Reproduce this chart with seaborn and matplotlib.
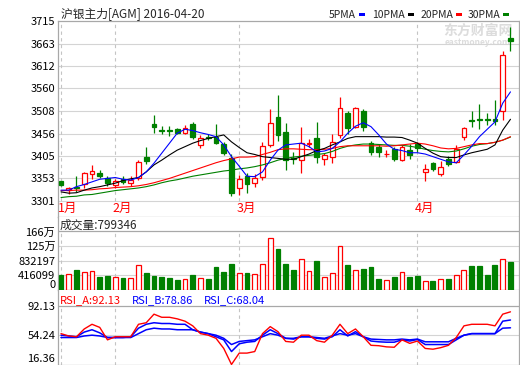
import numpy as np
import matplotlib
matplotlib.use('Agg')
import matplotlib.pyplot as plt
from matplotlib.patches import Rectangle
import seaborn as sns

# ── data ──────────────────────────────────────────────────────────────
title = "沪银主力[AGM] 2016-04-20"
month_labels = ["1月", "2月", "3月", "4月"]
month_start = [0, 7, 23, 46]

open_ = [3346, 3326, 3334, 3339, 3362, 3365, 3353, 3337, 3352, 3343,
         3355, 3402, 3478, 3465, 3465, 3466, 3458, 3477, 3430, 3449,
         3448, 3433, 3400, 3330, 3358, 3342, 3357, 3430, 3495, 3460,
         3401, 3395, 3432, 3445, 3397, 3403, 3453, 3504, 3471, 3508,
         3434, 3426, 3408, 3420, 3395, 3418, 3432, 3367, 3388, 3363,
         3397, 3390, 3449, 3488, 3490, 3490, 3489, 3507, 3677]
high = [3348, 3334, 3358, 3368, 3383, 3372, 3358, 3352, 3358, 3359,
        3396, 3426, 3499, 3473, 3473, 3468, 3476, 3483, 3453, 3455,
        3479, 3436, 3410, 3360, 3365, 3363, 3437, 3513, 3545, 3480,
        3414, 3472, 3444, 3482, 3411, 3456, 3541, 3509, 3518, 3513,
        3440, 3431, 3418, 3426, 3430, 3431, 3437, 3386, 3391, 3392,
        3405, 3430, 3472, 3507, 3524, 3503, 3533, 3647, 3702]
low = [3336, 3316, 3322, 3330, 3352, 3353, 3336, 3330, 3341, 3336,
       3349, 3386, 3457, 3456, 3450, 3455, 3455, 3444, 3424, 3441,
       3431, 3406, 3312, 3315, 3319, 3334, 3349, 3425, 3440, 3372,
       3387, 3365, 3426, 3388, 3384, 3388, 3445, 3456, 3469, 3463,
       3407, 3403, 3402, 3394, 3392, 3398, 3414, 3348, 3371, 3358,
       3382, 3388, 3441, 3472, 3466, 3476, 3476, 3488, 3645]
close = [3338, 3331, 3330, 3365, 3370, 3358, 3342, 3346, 3345, 3350,
         3390, 3392, 3472, 3463, 3463, 3458, 3470, 3448, 3445, 3445,
         3434, 3411, 3320, 3351, 3340, 3354, 3428, 3480, 3453, 3395,
         3397, 3434, 3434, 3403, 3407, 3437, 3516, 3470, 3515, 3471,
         3414, 3414, 3410, 3397, 3426, 3407, 3422, 3375, 3375, 3380,
         3386, 3420, 3468, 3485, 3487, 3488, 3485, 3637, 3670]

ma5 = [3326, 3326, 3334, 3339, 3345, 3351, 3353, 3355, 3351, 3349,
       3355, 3368, 3388, 3411, 3434, 3457, 3466, 3463, 3458, 3454,
       3449, 3430, 3403, 3381, 3358, 3357, 3368, 3395, 3418, 3430,
       3432, 3434, 3426, 3414, 3416, 3422, 3437, 3457, 3473, 3481,
       3472, 3453, 3432, 3420, 3417, 3412, 3412, 3409, 3403, 3397,
       3391, 3389, 3407, 3427, 3449, 3466, 3483, 3526, 3552]
ma10 = [3322, 3319, 3320, 3326, 3331, 3334, 3338, 3342, 3348, 3352,
        3355, 3368, 3384, 3395, 3407, 3418, 3426, 3434, 3440, 3445,
        3449, 3453, 3437, 3424, 3412, 3408, 3403, 3401, 3399, 3397,
        3397, 3403, 3409, 3417, 3422, 3430, 3437, 3445, 3449, 3449,
        3449, 3449, 3448, 3448, 3447, 3441, 3434, 3422, 3411, 3403,
        3401, 3401, 3407, 3412, 3416, 3420, 3430, 3464, 3489]
ma20 = [3325, 3325, 3326, 3326, 3327, 3329, 3330, 3332, 3333, 3334,
        3336, 3339, 3343, 3348, 3353, 3359, 3365, 3371, 3377, 3383,
        3389, 3394, 3398, 3402, 3402, 3403, 3408, 3413, 3419, 3421,
        3421, 3420, 3419, 3419, 3420, 3422, 3426, 3428, 3428, 3428,
        3428, 3428, 3427, 3428, 3430, 3432, 3434, 3432, 3428, 3423,
        3421, 3422, 3426, 3430, 3433, 3433, 3436, 3441, 3449]
ma30 = [3309, 3311, 3312, 3315, 3316, 3319, 3322, 3325, 3327, 3329,
        3331, 3334, 3338, 3343, 3347, 3350, 3354, 3358, 3361, 3364,
        3367, 3370, 3372, 3375, 3377, 3380, 3384, 3389, 3395, 3399,
        3402, 3404, 3406, 3408, 3410, 3415, 3422, 3427, 3430, 3432,
        3432, 3431, 3430, 3429, 3429, 3427, 3424, 3420, 3417, 3415,
        3414, 3416, 3421, 3427, 3431, 3433, 3436, 3441, 3448]

volume = [430000, 458000, 569000, 513000, 541000, 374000, 402000, 374000, 347000, 347000,
          707000, 485000, 402000, 374000, 347000, 291000, 319000, 430000, 347000, 319000,
          652000, 513000, 735000, 485000, 485000, 458000, 735000, 1476000, 1179000, 735000,
          569000, 893000, 541000, 818000, 374000, 485000, 1262000, 707000, 569000, 596000,
          652000, 319000, 291000, 374000, 513000, 374000, 402000, 264000, 264000, 319000,
          319000, 430000, 569000, 680000, 680000, 430000, 707000, 874000, 799346]

rsi_a = [56, 53, 52, 62, 68, 64, 48, 52, 52, 52,
         68, 70, 81, 77, 77, 75, 72, 66, 56, 54,
         50, 37, 16.4, 31, 31, 33, 56, 65, 58.5, 46,
         45, 54, 54, 47, 45, 54, 68, 56, 62, 52,
         41, 40.5, 39, 38.5, 48, 43.5, 46.5, 37, 36, 38,
         41, 51, 66, 68, 68, 68, 66, 81, 84]
rsi_b = [54, 53, 52, 58, 61, 57, 51, 51, 51, 52,
         63, 68, 70, 69, 69, 68, 68, 61, 58, 56,
         52, 48, 33, 43, 45, 46, 54, 61, 56, 50,
         49, 52, 52, 50, 49, 52, 61, 53, 58.5, 52,
         46.5, 45.5, 45, 45, 48, 46.5, 48.5, 42, 42, 42,
         42, 48, 54, 56, 56, 56, 56, 72, 73.5]
rsi_c = [51, 51, 51, 53, 54, 53, 51, 51, 51, 51,
         56, 61, 63, 62, 62, 61, 61, 61, 58, 56,
         54, 50, 42, 46, 47, 48, 52, 56, 54, 50,
         50, 52, 52, 51, 50, 53, 56, 54, 56, 52,
         49, 48.5, 48, 48, 49, 48, 49, 45.5, 45.5, 45.5,
         45.5, 50, 54, 56, 56, 56, 56, 63, 63.5]

price_ticks = [3301, 3353, 3405, 3456, 3508, 3560, 3612, 3663, 3715]
vol_ticks = [0, 416099, 832197, 1248296, 1664394]
vol_labels = ["0", "416099", "832197", "125万", "166万"]
rsi_ticks = [16.36, 54.24, 92.13]
rsi_labels = ["16.36", "54.24", "92.13"]

# ── style ────────────────────────────────────────────────────────────
sns.set_theme(style="white")
plt.rcParams['font.family'] = ['Noto Sans CJK SC', 'DejaVu Sans']

RED, GREEN, BLUE, BLACK = "#ff0000", "#008000", "#0000ff", "#000000"
BORDER, GRID, DASH = "#a8a8a8", "#d4d4d4", "#c4c4c4"
W, H = 520, 365

fig = plt.figure(figsize=(W / 100, H / 100), dpi=100)
fig.patch.set_facecolor("white")


def px_axes(l, t, r, b):
    return fig.add_axes([l / W, 1 - b / H, (r - l) / W, (b - t) / H])


x = np.arange(len(close))
o, h, l, c = map(np.array, (open_, high, low, close))
up = c >= o
edge = np.where(up, RED, GREEN)
face = np.where(up, "white", GREEN)
xlim = (-0.387, 59.1)

# ── price panel ──────────────────────────────────────────────────────
ax = px_axes(58, 21, 519, 216.7)
ax.set_xlim(*xlim)
ax.set_ylim(3264.9, 3715)
ax.set_yticks(price_ticks)
ax.set_yticklabels([str(v) for v in price_ticks])
for v in price_ticks[:-1]:
    ax.axhline(v, color=GRID, lw=0.8, zorder=0.6)
ax.vlines(month_start, 3301, 3715, colors=DASH, lw=0.8,
          linestyles=(0, (3, 3)), zorder=0.7)

ax.vlines(x, l, h, colors=edge, lw=0.9, zorder=2)
body = np.abs(c - o)
ax.bar(x, body, bottom=np.minimum(o, c), width=0.62, color=face,
       edgecolor=edge, linewidth=0.9, zorder=3)

for ys, col in [(ma30, GREEN), (ma20, RED), (ma10, BLACK), (ma5, BLUE)]:
    sns.lineplot(x=x, y=ys, ax=ax, color=col, linewidth=0.8, zorder=4)

for m, lab in zip(month_start, month_labels):
    ax.text(m - 0.38, 3283, lab, color=RED, fontsize=9, ha='left',
            va='center')

# watermark
ax.text(443 / W, 1 - 31 / H, "东方财富网", transform=fig.transFigure,
        color="#dcdcdc", fontsize=10, fontweight='bold', va='center',
        zorder=0.5)
ax.text(445 / W, 1 - 42.5 / H, "eastmoney.com", transform=fig.transFigure,
        color="#dcdcdc", fontsize=6, fontweight='bold', va='center',
        zorder=0.5)

# ── volume panel ─────────────────────────────────────────────────────
axv = px_axes(58, 216.7, 519, 290)
axv.set_xlim(*xlim)
axv.set_ylim(0, 1664394 * 73.3 / 58.5)
axv.set_yticks(vol_ticks)
axv.set_yticklabels(vol_labels)
for v in vol_ticks[1:-1]:
    axv.axhline(v, color=GRID, lw=0.8, zorder=0.6)
axv.axhline(vol_ticks[-1], color=BORDER, lw=0.9, zorder=0.6)
axv.vlines(month_start, 0, vol_ticks[-1], colors=DASH, lw=0.8,
           linestyles=(0, (3, 3)), zorder=0.7)
axv.bar(x, volume, width=0.64, color=face, edgecolor=edge,
        linewidth=0.9, zorder=3)

# ── RSI panel ────────────────────────────────────────────────────────
axr = px_axes(58, 290, 519, 364.5)
axr.set_xlim(*xlim)
axr.set_ylim(16.36, 16.36 + (92.13 - 16.36) * 74.5 / 59)
axr.set_yticks(rsi_ticks)
axr.set_yticklabels(rsi_labels)
axr.axhline(54.24, color=GRID, lw=0.8, zorder=0.6)
axr.axhline(92.13, color=BORDER, lw=0.9, zorder=0.6)
axr.vlines(month_start, 16.36, 92.13, colors=DASH, lw=0.8,
           linestyles=(0, (3, 3)), zorder=0.7)
sns.lineplot(x=x, y=rsi_c, ax=axr, color=BLUE, linewidth=1.1, zorder=3)
sns.lineplot(x=x, y=rsi_b, ax=axr, color=BLUE, linewidth=1.1, zorder=3)
sns.lineplot(x=x, y=rsi_a, ax=axr, color=RED, linewidth=1.0, zorder=4)

# ── common axis styling ──────────────────────────────────────────────
for a in (ax, axv, axr):
    a.set_xticks([])
    a.set_xlabel("")
    a.set_ylabel("")
    a.tick_params(axis='y', length=0, pad=2, labelsize=8, colors=BLACK)
    for s in a.spines.values():
        s.set_color(BORDER)
        s.set_linewidth(0.9)
    a.spines['top'].set_visible(a is ax)

# keep the edge labels inside the figure
axv.get_yticklabels()[0].set_va('bottom')
axr.get_yticklabels()[0].set_va('bottom')

# ── texts and legend ─────────────────────────────────────────────────
fig.text(61 / W, 1 - 14.5 / H, title, fontsize=8.5, va='center')
fig.text(60 / W, 1 - 225.5 / H, f"成交量:{volume[-1]}", fontsize=8.5,
         va='center')
for xp, lab, col in [(60, "RSI_A:92.13", RED), (132, "RSI_B:78.86", BLUE),
                     (204, "RSI_C:68.04", BLUE)]:
    fig.text(xp / W, 1 - 300 / H, lab, fontsize=8, color=col, va='center')

# legend: label right-aligned just before its colour swatch
for sw, lab, col in [(359, "5PMA", BLUE), (408, "10PMA", BLACK),
                     (456, "20PMA", RED), (503, "30PMA", GREEN)]:
    fig.text((sw - 3) / W, 1 - 14.5 / H, lab, fontsize=7.5, va='center',
             ha='right')
    fig.add_artist(Rectangle((sw / W, 1 - 15.5 / H), 6 / W, 3 / H,
                             transform=fig.transFigure, color=col, lw=0))

fig.savefig("out.png", dpi=100, facecolor="white")
